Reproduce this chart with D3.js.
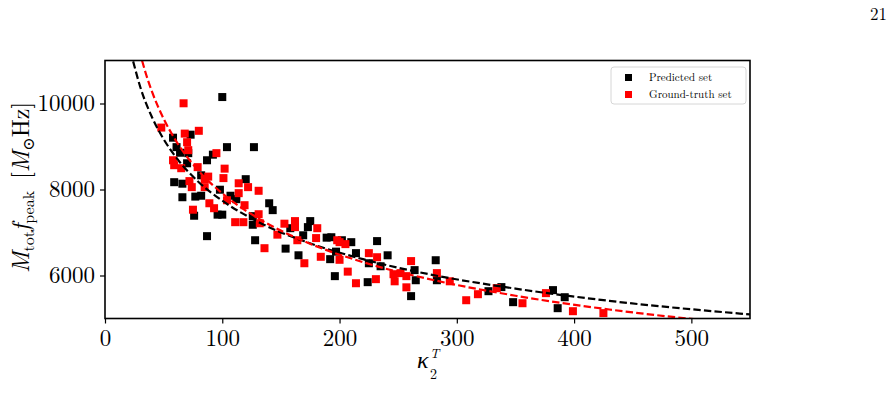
<!DOCTYPE html>
<html>
<head>
<meta charset="utf-8">
<script src="https://cdn.jsdelivr.net/npm/d3@7"></script>
<style>
  html, body { margin: 0; padding: 0; background: #fff; }
  svg { display: block; }
</style>
</head>
<body>
<div id="chart"></div>
<script>
const SERIF = '"Latin Modern Roman", "CMU Serif", "Liberation Serif", "DejaVu Serif", serif';
const INK = '#000';
const RED = '#ff0000';

// Predicted set (black squares)
const predX = [100, 58, 73, 104, 127, 61, 64, 71, 70, 87, 92, 82, 59, 66, 120, 66, 77, 82, 98, 107,
               112, 76, 96, 100, 126, 126, 87, 128, 140, 143, 154, 165, 158, 175, 173, 169, 189, 193, 197, 192,
               202, 210, 214, 232, 241, 225, 235, 196, 224, 264, 265, 282, 283, 261, 327, 338, 348, 382, 392, 386];
const predY = [10150, 9205, 9275, 8985, 8985, 8985, 8855, 8845, 8610, 8680, 8810, 8330, 8170, 8135, 8240, 7820, 7835, 7855, 7995, 7855,
               7775, 7390, 7415, 7415, 7380, 7180, 6915, 6820, 7680, 7520, 6625, 6470, 7100, 7265, 7125, 6935, 6880, 6890, 6555, 6380,
               6820, 6775, 6520, 6800, 6470, 6285, 6215, 5985, 5845, 6125, 5890, 6355, 5890, 5520, 5635, 5730, 5380, 5660, 5495, 5240];

// Ground-truth set (red squares)
const truthX = [67, 48, 68, 80, 70, 71, 95, 58, 59, 65, 79, 102, 101, 88, 85, 72, 74, 85, 114, 122,
                114, 131, 89, 93, 104, 119, 75, 111, 118, 131, 132, 153, 162, 162, 147, 136, 164, 181, 180, 198,
                184, 200, 205, 200, 225, 232, 207, 214, 231, 246, 252, 247, 257, 261, 257, 283, 294, 308, 318, 334,
                356, 376, 399, 425, 170];
const truthY = [10005, 9440, 9300, 9365, 9100, 8915, 8845, 8680, 8565, 8495, 8520, 8485, 8265, 8300, 8240, 8195, 8055, 8055, 8145, 8055,
                7915, 7970, 7680, 7565, 7750, 7635, 7530, 7240, 7240, 7425, 7215, 7205, 7265, 7125, 6950, 6635, 6820, 7100, 6870, 6820,
                6435, 6775, 6730, 6365, 6520, 6425, 6090, 5820, 5915, 6030, 6055, 5865, 5985, 6335, 5725, 6055, 5865, 5425, 5565, 5705,
                5355, 5590, 5170, 5125, 6285];

// Fitted curves
const predFitX  = [24, 30, 40, 50, 60, 80, 100, 130, 170, 220, 280, 350, 430, 550];
const predFitY  = [10980, 10390, 9685, 9170, 8770, 8170, 7740, 7255, 6795, 6380, 6010, 5695, 5410, 5095];
const truthFitX = [31.6, 35, 40, 50, 60, 80, 100, 130, 170, 220, 280, 350, 430, 500, 550];
const truthFitY = [11000, 10680, 10280, 9645, 9155, 8430, 7910, 7340, 6795, 6310, 5895, 5530, 5210, 4990, 4860];

const xTicks = [0, 100, 200, 300, 400, 500];
const yTicks = [6000, 8000, 10000];

const legendLabels = ['Predicted set', 'Ground-truth set'];
const legendColors = [INK, RED];

const W = 892, H = 415;
const plotL = 105, plotR = 750, plotT = 60.5, plotB = 318.5;

const x = d3.scaleLinear().domain([0, 550]).range([plotL, plotR]);
const y = d3.scaleLinear().domain([5000, 11000]).range([plotB, plotT]);

const svg = d3.select('#chart').append('svg')
  .attr('width', W).attr('height', H)
  .attr('viewBox', `0 0 ${W} ${H}`)
  .style('font-family', SERIF);

svg.append('rect').attr('width', W).attr('height', H).attr('fill', '#fff');

// page number
svg.append('text')
  .attr('x', 887).attr('y', 20)
  .attr('text-anchor', 'end')
  .attr('font-size', 17)
  .attr('fill', INK)
  .text('21');

svg.append('clipPath').attr('id', 'plot-clip')
  .append('rect')
  .attr('x', plotL).attr('y', plotT)
  .attr('width', plotR - plotL).attr('height', plotB - plotT);

const plot = svg.append('g').attr('clip-path', 'url(#plot-clip)');

// Points
const sq = 8;
const predPts = predX.map((d, i) => ({ x: d, y: predY[i] }));
const truthPts = truthX.map((d, i) => ({ x: d, y: truthY[i] }));

plot.selectAll('.pred')
  .data(predPts)
  .join('rect')
  .attr('class', 'pred')
  .attr('x', d => x(d.x) - sq / 2)
  .attr('y', d => y(d.y) - sq / 2)
  .attr('width', sq).attr('height', sq)
  .attr('fill', INK);

plot.selectAll('.truth')
  .data(truthPts)
  .join('rect')
  .attr('class', 'truth')
  .attr('x', d => x(d.x) - sq / 2)
  .attr('y', d => y(d.y) - sq / 2)
  .attr('width', sq).attr('height', sq)
  .attr('fill', RED);

// Fit lines
const line = d3.line()
  .x(d => x(d[0]))
  .y(d => y(d[1]))
  .curve(d3.curveMonotoneX);

plot.append('path')
  .attr('d', line(predFitX.map((d, i) => [d, predFitY[i]])))
  .attr('fill', 'none')
  .attr('stroke', INK)
  .attr('stroke-width', 2.2)
  .attr('stroke-dasharray', '7.4,3.2');

plot.append('path')
  .attr('d', line(truthFitX.map((d, i) => [d, truthFitY[i]])))
  .attr('fill', 'none')
  .attr('stroke', RED)
  .attr('stroke-width', 2.2)
  .attr('stroke-dasharray', '7.4,3.2');

// Axes
const xAxis = svg.append('g')
  .attr('transform', `translate(0,${plotB})`)
  .call(d3.axisBottom(x).tickValues(xTicks).tickSize(5).tickPadding(6).tickFormat(d3.format('d')));

const yAxis = svg.append('g')
  .attr('transform', `translate(${plotL},0)`)
  .call(d3.axisLeft(y).tickValues(yTicks).tickSize(5).tickPadding(5).tickFormat(d3.format('d')));

[xAxis, yAxis].forEach(a => {
  a.select('.domain').remove();
  a.selectAll('.tick line').attr('stroke', INK).attr('stroke-width', 1.2);
  a.selectAll('.tick text')
    .attr('fill', INK)
    .attr('font-family', SERIF)
    .attr('font-size', 23);
});

// Frame
svg.append('rect')
  .attr('x', plotL).attr('y', plotT)
  .attr('width', plotR - plotL).attr('height', plotB - plotT)
  .attr('fill', 'none')
  .attr('stroke', INK)
  .attr('stroke-width', 1.6);

// X label: kappa_2^T  (sup and sub drawn as separate texts, stacked)
const xlX = 417, xlY = 368;
svg.append('text')
  .attr('x', xlX).attr('y', xlY)
  .attr('font-size', 24)
  .attr('font-style', 'italic')
  .attr('fill', INK)
  .text('κ');
svg.append('text')
  .attr('x', xlX + 13).attr('y', xlY - 10)
  .attr('font-size', 13)
  .attr('font-style', 'italic')
  .attr('fill', INK)
  .text('T');
svg.append('text')
  .attr('x', xlX + 13).attr('y', xlY + 11)
  .attr('font-size', 14)
  .attr('fill', INK)
  .text('2');

// Y label: M_tot f_peak [M_sun Hz]
const yl = svg.append('text')
  .attr('transform', `translate(29,${(plotT + plotB) / 2 - 2}) rotate(-90)`)
  .attr('text-anchor', 'middle')
  .attr('font-size', 24)
  .attr('fill', INK);
yl.append('tspan').attr('font-style', 'italic').text('M');
yl.append('tspan').attr('font-size', 16).attr('dy', 5).text('tot');
yl.append('tspan').attr('font-style', 'italic').attr('dy', -5).text('f');
yl.append('tspan').attr('font-size', 16).attr('dy', 5).text('peak');
yl.append('tspan').attr('dy', -5).text('\u2002[');
yl.append('tspan').attr('font-style', 'italic').text('M');
yl.append('tspan').attr('font-size', 16).attr('dy', 5).text('⊙');
yl.append('tspan').attr('dy', -5).text('Hz]');

// Legend
const lg = svg.append('g').attr('transform', 'translate(611,67)');
lg.append('rect')
  .attr('width', 135).attr('height', 37)
  .attr('rx', 3)
  .attr('fill', '#fff')
  .attr('stroke', '#d6d6d6')
  .attr('stroke-width', 1);

const items = lg.selectAll('.item')
  .data(legendLabels)
  .join('g')
  .attr('class', 'item')
  .attr('transform', (d, i) => `translate(0,${10.5 + i * 17})`);

items.append('rect')
  .attr('x', 14).attr('y', -3.5)
  .attr('width', 7).attr('height', 7)
  .attr('fill', (d, i) => legendColors[i]);

items.append('text')
  .attr('x', 38).attr('y', 0)
  .attr('dy', '0.35em')
  .attr('font-size', 11)
  .attr('fill', INK)
  .text(d => d);
</script>
</body>
</html>
